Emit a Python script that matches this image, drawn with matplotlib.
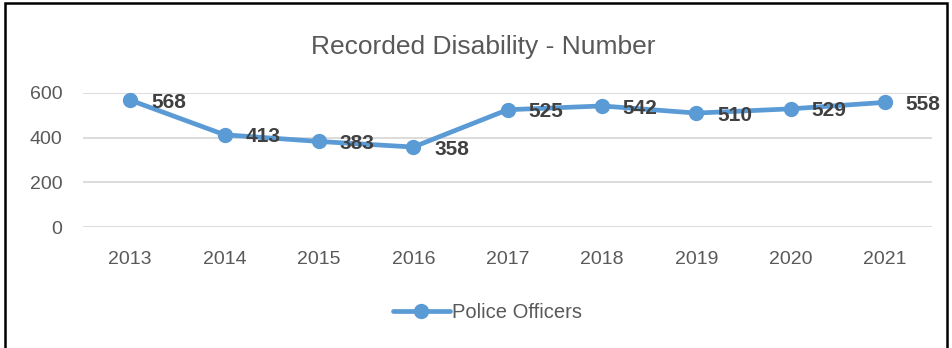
import matplotlib.pyplot as plt
from matplotlib.patches import Rectangle

years = ['2013', '2014', '2015', '2016', '2017', '2018', '2019', '2020', '2021']
officers = [568, 413, 383, 358, 525, 542, 510, 529, 558]
yticks = [0, 200, 400, 600]

blue = '#5B9BD5'
grey = '#595959'
plt.rcParams['font.family'] = ['Liberation Sans', 'DejaVu Sans']

fig = plt.figure(figsize=(9.52, 3.48), dpi=100)
ax = fig.add_axes([0.0872, 0.3477, 0.892, 0.3851])

x = list(range(len(years)))
ax.plot(x, officers, color=blue, lw=3.4, marker='o', ms=10, label='Police Officers',
        solid_capstyle='round', zorder=3)
for xi, v in zip(x, officers):
    ax.annotate(str(v), (xi, v), xytext=(15, -1.5), textcoords='offset points',
                ha='left', va='center', fontsize=15, fontweight='bold', color='#404040')

ax.set_xlim(-0.5, len(years) - 0.5)
ax.set_ylim(0, 600)
ax.set_yticks(yticks)
ax.set_xticks(x)
ax.set_xticklabels(years)
ax.grid(axis='y', color='#D9D9D9', lw=1.3)
ax.set_axisbelow(True)
for s in ax.spines.values():
    s.set_visible(False)
ax.tick_params(length=0, labelsize=14, colors=grey)
ax.tick_params(axis='y', pad=15)
ax.tick_params(axis='x', pad=17)
for ln in ax.lines:
    ln.set_clip_on(False)

fig.text(0.508, 0.866, 'Recorded Disability - Number', ha='center', va='center',
         fontsize=19, color=grey)
fig.legend(loc='center', bbox_to_anchor=(0.512, 0.103), frameon=False, fontsize=14.5,
           labelcolor=grey, handlelength=2.8, handletextpad=0.1)

# outer frame, bottom edge runs off the canvas
fig.patches.append(Rectangle((5 / 952, -0.05), 942 / 952, 1.05 - 3 / 348,
                             transform=fig.transFigure, fill=False, ec='black', lw=1.8))

fig.savefig('out.png', dpi=100)
